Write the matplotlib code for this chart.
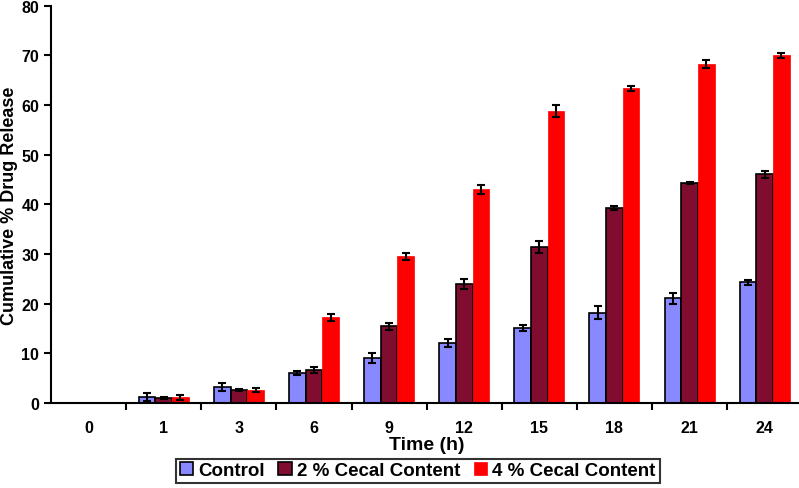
import matplotlib.pyplot as plt
import numpy as np

plt.rcParams['font.family'] = ['Liberation Sans', 'DejaVu Sans']
plt.rcParams['font.weight'] = 'bold'

times = ['0', '1', '3', '6', '9', '12', '15', '18', '21', '24']
control = [0, 1.2, 3.2, 6.1, 9.1, 12.0, 15.1, 18.2, 21.1, 24.3]
control_err = [0, 0.8, 0.9, 0.4, 1.0, 0.8, 0.6, 1.3, 1.1, 0.5]
cecal2 = [0, 1.0, 2.6, 6.6, 15.4, 24.0, 31.5, 39.3, 44.3, 46.1]
cecal2_err = [0, 0.2, 0.3, 0.6, 0.7, 1.0, 1.2, 0.4, 0.2, 0.7]
cecal4 = [0, 1.1, 2.6, 17.3, 29.5, 43.0, 58.8, 63.4, 68.2, 70.0]
cecal4_err = [0, 0.5, 0.4, 0.7, 0.8, 1.0, 1.2, 0.5, 0.8, 0.5]

fig = plt.figure(figsize=(7.99, 4.89), dpi=100)
ax = fig.add_axes([0.064, 0.174, 0.94, 0.812])

x = np.arange(len(times))
w = 1 / 4.5
ekw = dict(ecolor='black', elinewidth=1.5, capsize=3, capthick=1.5)

# zero-height bars at t=0 are skipped so nothing is drawn there
m = x > 0
ax.bar(x[m] - w, np.array(control)[m], w, yerr=np.array(control_err)[m],
       color='#8888FF', edgecolor='black', linewidth=1.2, label='Control',
       error_kw=ekw)
ax.bar(x[m], np.array(cecal2)[m], w, yerr=np.array(cecal2_err)[m],
       color='#800C30', edgecolor='black', linewidth=1.2,
       label='2 % Cecal Content', error_kw=ekw)
ax.bar(x[m] + w, np.array(cecal4)[m], w, yerr=np.array(cecal4_err)[m],
       color='#FF0000', edgecolor='#FF0000', linewidth=0.5,
       label='4 % Cecal Content', error_kw=ekw)

ax.set_xlim(-0.5, 9.5)
ax.set_ylim(0, 80)
ax.set_yticks(np.arange(0, 81, 10))
ax.set_xticks(np.arange(0.5, 9, 1))
ax.set_xticklabels([])
ax.set_xticks(x, minor=True)
ax.set_xticklabels(times, minor=True)
ax.tick_params(axis='x', which='minor', length=0, pad=12, labelsize=11.5)
ax.tick_params(axis='x', which='major', length=5, width=1.5, direction='out')
ax.tick_params(axis='y', length=5, width=1.5, direction='out', labelsize=11.5)

for s in ['top', 'right']:
    ax.spines[s].set_visible(False)
for s in ['left', 'bottom']:
    ax.spines[s].set_linewidth(1.5)

ax.set_xlabel('Time (h)', fontsize=14, fontweight='bold', labelpad=1)
ax.set_ylabel('Cumulative % Drug Release', fontsize=13, fontweight='bold',
              va='center')
ax.yaxis.set_label_coords(-0.056, 0.5)

leg = fig.legend(loc='center', bbox_to_anchor=(0.523, 0.035), ncol=3,
                 fontsize=13.5, frameon=True, fancybox=False, edgecolor='black',
                 handlelength=0.7, handleheight=0.7, handletextpad=0.3,
                 columnspacing=0.7, borderpad=0.2, borderaxespad=0)
leg.get_frame().set_linewidth(1.5)

fig.savefig('out.png', dpi=100)
